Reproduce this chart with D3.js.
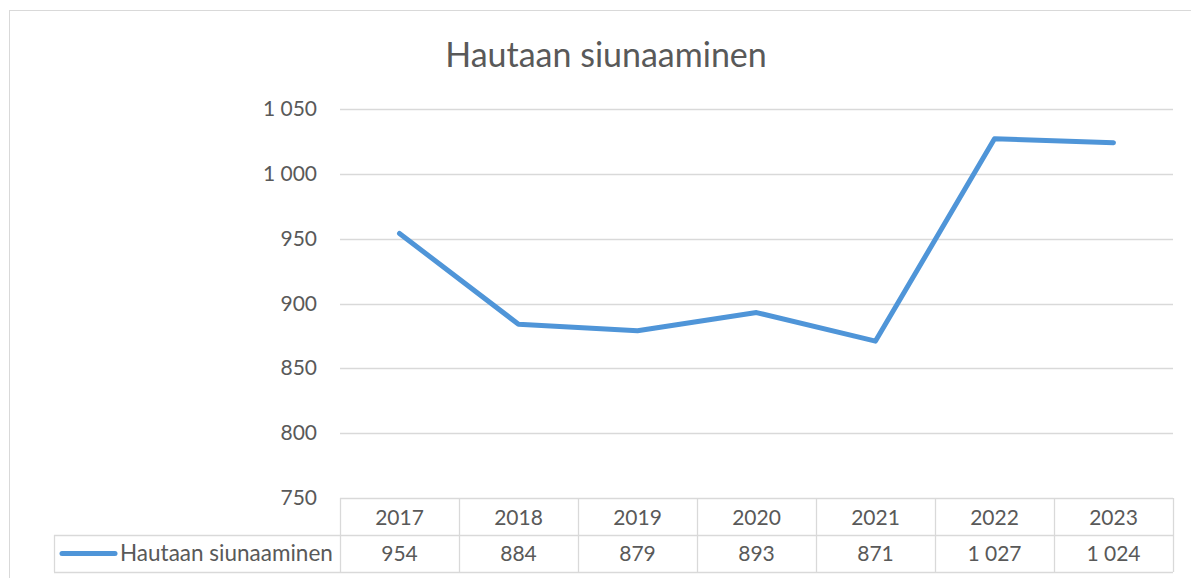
<!DOCTYPE html>
<html>
<head>
<meta charset="utf-8">
<script src="https://cdn.jsdelivr.net/npm/d3@7"></script>
<style>
  body { margin: 0; background: #fff; }
  text { font-family: Lato, "Open Sans", sans-serif; fill: #595959; }
</style>
</head>
<body>
<div id="chart"></div>
<script>
// data
var years = ["2017", "2018", "2019", "2020", "2021", "2022", "2023"]
var values = [954, 884, 879, 893, 871, 1027, 1024]
var seriesName = "Hautaan siunaaminen"
var yTicks = [750, 800, 850, 900, 950, 1000, 1050]

var width = 1191, height = 578
var plot = {left: 340, right: 1173, top: 109, bottom: 498}
var rowH = 37

var fmt = d3.formatLocale({decimal: ",", thousands: "\u00a0", grouping: [3], currency: ["", ""]}).format(",d")

var svg = d3.select("#chart").append("svg")
    .attr("width", width)
    .attr("height", height)

// outer chart border
svg.append("rect")
    .attr("x", 9.5).attr("y", 10.5)
    .attr("width", 1200).attr("height", 600)
    .attr("fill", "none")
    .attr("stroke", "#d9d9d9")

svg.append("text")
    .attr("x", 606).attr("y", 67)
    .attr("text-anchor", "middle")
    .attr("font-size", "34px")
    .text(seriesName)

var x = d3.scaleBand().domain(years).range([plot.left, plot.right])
var y = d3.scaleLinear().domain([750, 1050]).range([plot.bottom, plot.top])

// gridlines
svg.append("g")
    .selectAll("line")
    .data(yTicks.filter(d => d > 750))
    .enter()
    .append("line")
    .attr("x1", plot.left).attr("x2", plot.right)
    .attr("y1", d => Math.round(y(d)) + 0.5)
    .attr("y2", d => Math.round(y(d)) + 0.5)
    .attr("stroke", "#d9d9d9")
    .attr("stroke-width", 1.3)

// y labels
svg.append("g")
    .selectAll("text")
    .data(yTicks)
    .enter()
    .append("text")
    .attr("x", 317)
    .attr("y", d => y(d) + 7)
    .attr("text-anchor", "end")
    .attr("font-size", "21px")
    .text(d => fmt(d))

// line
var line = d3.line()
    .x((d, i) => x(years[i]) + x.bandwidth() / 2)
    .y(d => y(d))

svg.append("path")
    .datum(values)
    .attr("d", line)
    .attr("fill", "none")
    .attr("stroke", "#4f95d8")
    .attr("stroke-width", 5)
    .attr("stroke-linecap", "round")
    .attr("stroke-linejoin", "round")

// data table
var table = svg.append("g")
var tableStroke = "#d9d9d9"
var legendLeft = 54

// horizontal lines
table.append("line")
    .attr("x1", plot.left).attr("x2", plot.right)
    .attr("y1", plot.bottom + 0.5).attr("y2", plot.bottom + 0.5)
    .attr("stroke", tableStroke).attr("stroke-width", 1.3)
table.append("line")
    .attr("x1", legendLeft).attr("x2", plot.right)
    .attr("y1", plot.bottom + rowH + 0.5).attr("y2", plot.bottom + rowH + 0.5)
    .attr("stroke", tableStroke).attr("stroke-width", 1.3)
table.append("line")
    .attr("x1", legendLeft).attr("x2", plot.right)
    .attr("y1", plot.bottom + 2 * rowH + 0.5).attr("y2", plot.bottom + 2 * rowH + 0.5)
    .attr("stroke", tableStroke).attr("stroke-width", 1.3)

// vertical lines
var edges = years.map(d => x(d)).concat([plot.right])
table.selectAll("line.v")
    .data(edges)
    .enter()
    .append("line")
    .attr("class", "v")
    .attr("x1", d => Math.round(d) + 0.5).attr("x2", d => Math.round(d) + 0.5)
    .attr("y1", plot.bottom).attr("y2", plot.bottom + 2 * rowH)
    .attr("stroke", tableStroke).attr("stroke-width", 1.3)
table.append("line")
    .attr("x1", legendLeft + 0.5).attr("x2", legendLeft + 0.5)
    .attr("y1", plot.bottom + rowH).attr("y2", plot.bottom + 2 * rowH)
    .attr("stroke", tableStroke).attr("stroke-width", 1.3)

// header years
table.selectAll("text.year")
    .data(years)
    .enter()
    .append("text")
    .attr("class", "year")
    .attr("x", d => x(d) + x.bandwidth() / 2)
    .attr("y", plot.bottom + 27)
    .attr("text-anchor", "middle")
    .attr("font-size", "21px")
    .text(d => d)

// values row
table.selectAll("text.val")
    .data(values)
    .enter()
    .append("text")
    .attr("class", "val")
    .attr("x", (d, i) => x(years[i]) + x.bandwidth() / 2)
    .attr("y", plot.bottom + rowH + 26)
    .attr("text-anchor", "middle")
    .attr("font-size", "21px")
    .text(d => fmt(d))

// legend key
table.append("line")
    .attr("x1", 62).attr("x2", 115)
    .attr("y1", plot.bottom + rowH + 18.5).attr("y2", plot.bottom + rowH + 18.5)
    .attr("stroke", "#4f95d8")
    .attr("stroke-width", 5)
    .attr("stroke-linecap", "round")
table.append("text")
    .attr("x", 120)
    .attr("y", plot.bottom + rowH + 26)
    .attr("font-size", "22.5px")
    .text(seriesName)
</script>
</body>
</html>
